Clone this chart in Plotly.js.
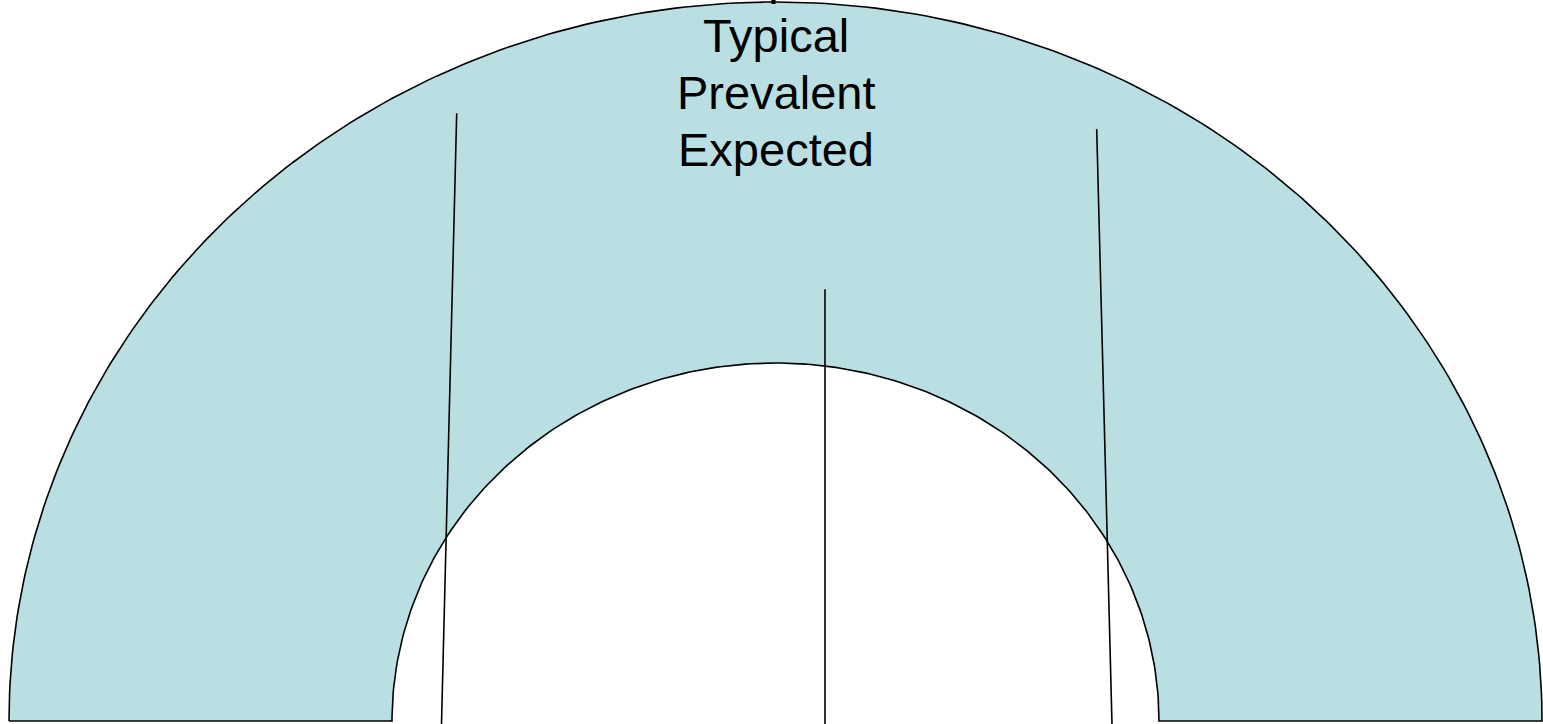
<!DOCTYPE html>
<html>
<head>
<meta charset="utf-8">
<script src="https://cdn.plot.ly/plotly-3.0.1.min.js"></script>
<style>html,body{margin:0;padding:0;background:#fff;}#chart{width:1543px;height:724px;}</style>
</head>
<body>
<div id="chart"></div>
<script>
// ---- data ----
const words = ["Frequent", "Typical", "Prevalent", "Expected"];
const wordY = [744, 686, 629, 572];          // label centres (arch units, baseline = 0)
const outerRadius = [766.5, 719];             // [horizontal, vertical]
const innerRadius = [383.5, 358];
const pointerStartX = [-318.8, 49.5, 321.2];
const pointerStartY = [607.7, 431.7, 592];
const pointerEndX = [-334, 49.5, 336.5];
const pointerEndY = [-3, -3, -3];

// ---- build arch outline ----
const N = 240;
const ax = [], ay = [];
for (let i = 0; i <= N; i++) {
  const t = Math.PI - Math.PI * i / N;
  ax.push(outerRadius[0] * Math.cos(t));
  ay.push(outerRadius[1] * Math.sin(t));
}
for (let i = 0; i <= N; i++) {
  const t = Math.PI * i / N;
  ax.push(innerRadius[0] * Math.cos(t));
  ay.push(innerRadius[1] * Math.sin(t));
}
ax.push(ax[0]); ay.push(ay[0]);

const traces = [{
  type: 'scatter', mode: 'lines', x: ax, y: ay,
  fill: 'toself', fillcolor: '#badfe3',
  line: {color: '#000', width: 1.6}, hoverinfo: 'skip', showlegend: false
}];
for (let i = 0; i < pointerStartX.length; i++) {
  traces.push({
    type: 'scatter', mode: 'lines',
    x: [pointerStartX[i], pointerEndX[i]], y: [pointerStartY[i], pointerEndY[i]],
    line: {color: '#000', width: 1.6}, hoverinfo: 'skip', showlegend: false
  });
}

const yTop = 715;
const annotations = words.map((w, i) => {
  const yy = Math.min(wordY[i], yTop);
  return {
    x: 0.5, y: yy, yshift: wordY[i] - yy, xref: 'x', yref: 'y', text: w, showarrow: false,
    xanchor: 'center', yanchor: 'middle',
    font: {family: 'Liberation Sans, Arial, sans-serif', size: 47, color: '#000'}
  };
});

const layout = {
  width: 1543, height: 724,
  margin: {l: 0, r: 0, t: 0, b: 0},
  paper_bgcolor: '#fff', plot_bgcolor: '#fff',
  xaxis: {range: [-775.5, 767.5], visible: false, fixedrange: true},
  yaxis: {range: [-3, 721], visible: false, fixedrange: true},
  annotations: annotations,
  showlegend: false
};

Plotly.newPlot('chart', traces, layout, {displayModeBar: false, staticPlot: true});
</script>
</body>
</html>
